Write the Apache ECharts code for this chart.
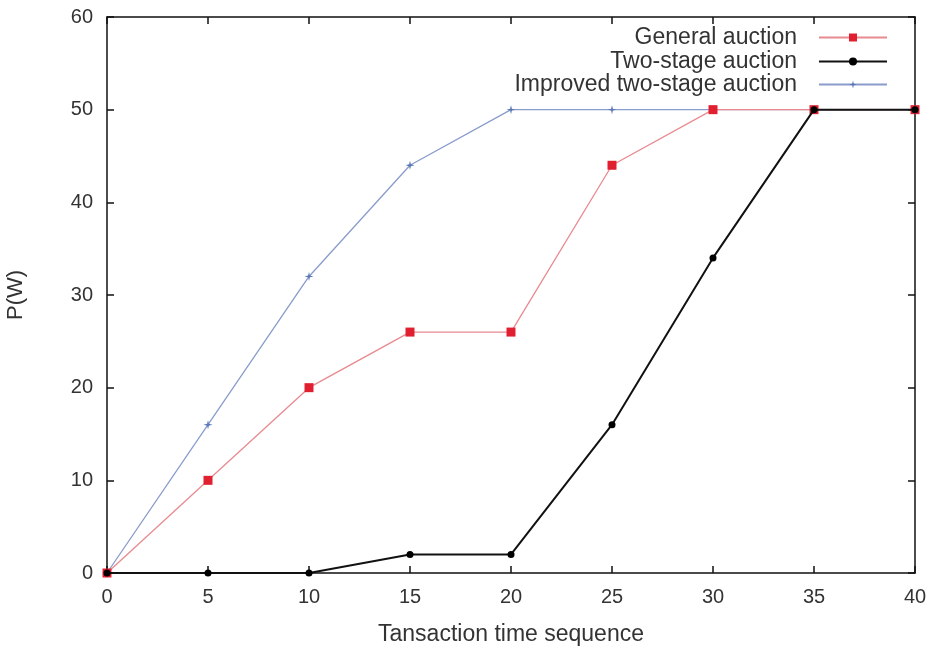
<!DOCTYPE html>
<html>
<head>
<meta charset="utf-8">
<script src="https://cdn.jsdelivr.net/npm/echarts@6/dist/echarts.min.js"></script>
<style>
  html, body { margin: 0; padding: 0; background: #fff; }
  #chart { width: 938px; height: 650px; }
</style>
</head>
<body>
<div id="chart"></div>
<script>
// values
var seq = [0, 5, 10, 15, 20, 25, 30, 35, 40];
var general = [0, 10, 20, 26, 26, 44, 50, 50, 50];
var twoStage = [0, 0, 0, 2, 2, 16, 34, 50, 50];
var improved = [0, 16, 32, 44, 50, 50, 50, 50, 50];

function pairs(ys) {
    return seq.map(function (x, i) { return [x, ys[i]]; });
}

var font = 'Liberation Sans, Arial, sans-serif';
var star = 'path://M5,0 L6,4 L10,5 L6,6 L5,10 L4,6 L0,5 L4,4 Z';

var myChart = echarts.init(document.getElementById('chart'));

var tickIn = { show: true, inside: true, length: 7, lineStyle: { color: '#111', width: 1.5 } };
var frameLine = { show: true, onZero: false, lineStyle: { color: '#111', width: 1.5 } };

function legendFor(name, top) {
    return {
        data: [name],
        right: 50,
        top: top,
        align: 'right',
        itemWidth: 68,
        itemHeight: 10,
        itemGap: 0,
        padding: 0,
        textStyle: { fontFamily: font, fontSize: 23, color: '#333', padding: [0, 17, 0, 0] }
    };
}

var option = {
    backgroundColor: '#fff',
    animation: false,
    grid: { left: 107, right: 23, top: 17, bottom: 77, outerBoundsMode: 'none', containLabel: false },
    legend: [
        legendFor('General auction', 26),
        legendFor('Two-stage auction', 50),
        legendFor('Improved two-stage auction', 73)
    ],
    xAxis: [
        {
            type: 'value',
            min: 0, max: 40, interval: 5,
            name: 'Tansaction time sequence',
            nameLocation: 'middle',
            nameGap: 50,
            nameTextStyle: { fontFamily: font, fontSize: 23, color: '#333' },
            axisLine: frameLine,
            axisTick: tickIn,
            axisLabel: { margin: 14, fontFamily: font, fontSize: 20, color: '#333' },
            splitLine: { show: false }
        },
        {
            type: 'value', position: 'top',
            min: 0, max: 40, interval: 5,
            axisLine: frameLine,
            axisTick: tickIn,
            axisLabel: { show: false },
            splitLine: { show: false }
        }
    ],
    yAxis: [
        {
            type: 'value',
            min: 0, max: 60, interval: 10,
            name: 'P(W)',
            nameLocation: 'middle',
            nameGap: 80,
            nameTextStyle: { fontFamily: font, fontSize: 22, color: '#333' },
            axisLine: frameLine,
            axisTick: tickIn,
            axisLabel: { margin: 14, fontFamily: font, fontSize: 20, color: '#333' },
            splitLine: { show: false }
        },
        {
            type: 'value', position: 'right',
            min: 0, max: 60, interval: 10,
            axisLine: frameLine,
            axisTick: tickIn,
            axisLabel: { show: false },
            splitLine: { show: false }
        }
    ],
    series: [
        {
            name: 'Improved two-stage auction',
            type: 'line',
            data: pairs(improved),
            symbol: star,
            symbolSize: 9,
            itemStyle: { color: '#5a78b8' },
            lineStyle: { color: '#8a9ccc', width: 1.3 },
            z: 3
        },
        {
            name: 'General auction',
            type: 'line',
            data: pairs(general),
            symbol: 'rect',
            symbolSize: 9,
            itemStyle: { color: '#e02030' },
            lineStyle: { color: '#e88a90', width: 1.3 },
            z: 4
        },
        {
            name: 'Two-stage auction',
            type: 'line',
            data: pairs(twoStage),
            symbol: 'circle',
            symbolSize: 7,
            itemStyle: { color: '#000' },
            lineStyle: { color: '#111', width: 2 },
            z: 5
        }
    ]
};

myChart.setOption(option);
</script>
</body>
</html>
